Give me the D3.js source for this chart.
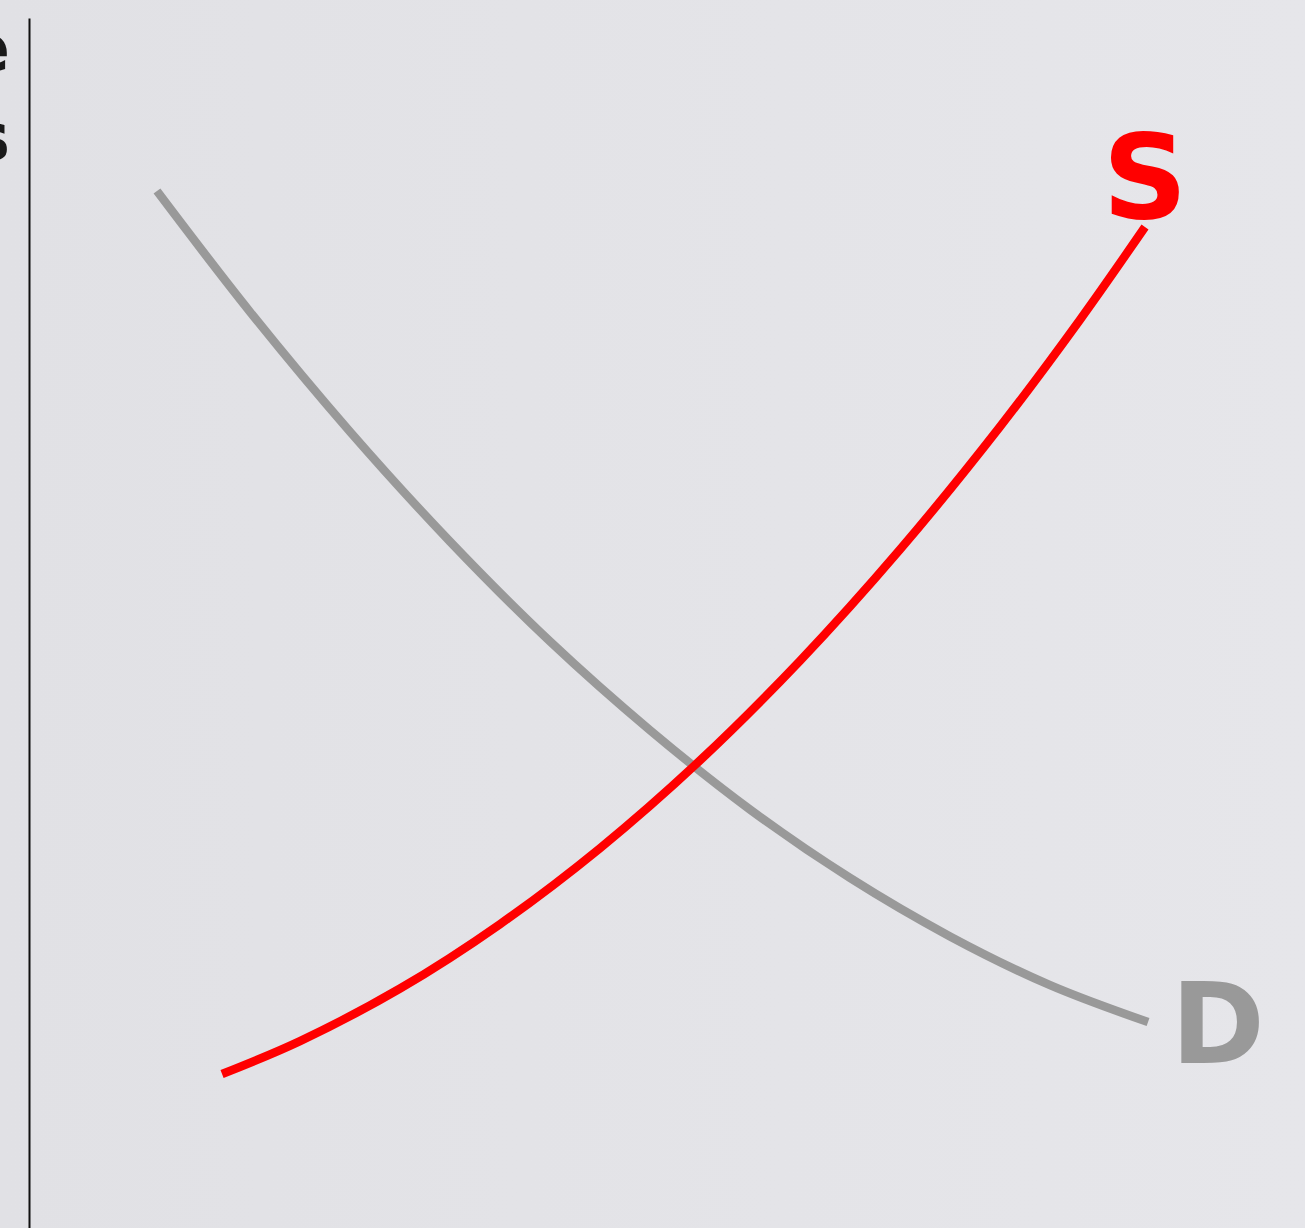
<!DOCTYPE html>
<html>
<head>
<meta charset="utf-8">
<script src="https://cdn.jsdelivr.net/npm/d3@7"></script>
<style>
  html, body { margin: 0; padding: 0; background: #e4e4e8; overflow: hidden; }
  svg { display: block; }
</style>
</head>
<body>
<script>
// Quantity / price points (arbitrary 0-100 units)
const demandQ = [10.03, 17.32, 25.16, 32.99, 40.83, 48.67, 56.50, 64.34, 72.18, 80.02, 87.70];
const demandP = [85.70, 75.72, 65.81, 56.74, 48.48, 41.14, 34.59, 28.93, 24.10, 20.07, 17.02];
const supplyQ = [15.13, 21.24, 29.08, 36.91, 44.75, 52.59, 60.42, 68.26, 76.10, 82.37, 87.46];
const supplyP = [12.73, 15.45, 19.79, 25.11, 31.39, 38.64, 46.87, 56.07, 66.23, 75.07, 82.73];
const curveLabels = ["S", "D"];
const axisLabelLines = ["Price", "Levels"];

const W = 1305, H = 1228;
const svg = d3.select("body").append("svg").attr("width", W).attr("height", H);

const grad = svg.append("defs").append("linearGradient")
  .attr("id", "bg").attr("x1", "0%").attr("x2", "100%").attr("y1", "0%").attr("y2", "0%");
grad.append("stop").attr("offset", "0%").attr("stop-color", "#e1e1e5");
grad.append("stop").attr("offset", "100%").attr("stop-color", "#e6e6ea");
svg.append("rect").attr("width", W).attr("height", H).attr("fill", "url(#bg)");

const x = d3.scaleLinear().domain([0, 100]).range([29, 1305]);
const y = d3.scaleLinear().domain([0, 100]).range([1228, 18]);

// vertical axis line (no ticks)
const yAxis = d3.axisLeft(y).tickValues([]).tickSizeOuter(0);
const ag = svg.append("g").attr("transform", `translate(${x(0)},0)`).call(yAxis);
ag.select(".domain").attr("stroke", "#111").attr("stroke-width", 2);

// axis label (cut off at the left edge, as in the reference)
const lab = svg.append("text")
  .attr("font-family", "DejaVu Sans, sans-serif")
  .attr("font-weight", "bold")
  .attr("font-size", 66)
  .attr("fill", "#1a1a1a")
  .attr("text-anchor", "end");
lab.selectAll("tspan").data(axisLabelLines).join("tspan")
  .attr("x", 10)
  .attr("y", (d, i) => 71 + i * 89)
  .text(d => d);

const line = d3.line().x(d => x(d[0])).y(d => y(d[1])).curve(d3.curveCatmullRom.alpha(0.5));
const demand = demandQ.map((q, i) => [q, demandP[i]]);
const supply = supplyQ.map((q, i) => [q, supplyP[i]]);

svg.append("path").datum(demand).attr("d", line)
  .attr("fill", "none").attr("stroke", "#999999").attr("stroke-width", 8.5);
svg.append("path").datum(supply).attr("d", line)
  .attr("fill", "none").attr("stroke", "#ff0000").attr("stroke-width", 8.5);

// curve labels
svg.append("text")
  .attr("x", x(supplyQ[supplyQ.length - 1]))
  .attr("y", 218)
  .attr("text-anchor", "middle")
  .attr("font-family", "DejaVu Sans, sans-serif")
  .attr("font-weight", "bold")
  .attr("font-size", 118)
  .attr("fill", "#ff0000")
  .text(curveLabels[0]);
svg.append("text")
  .attr("x", 1171)
  .attr("y", 1063)
  .attr("text-anchor", "start")
  .attr("font-family", "DejaVu Sans, sans-serif")
  .attr("font-weight", "bold")
  .attr("font-size", 113)
  .attr("fill", "#999999")
  .text(curveLabels[1]);
</script>
</body>
</html>
